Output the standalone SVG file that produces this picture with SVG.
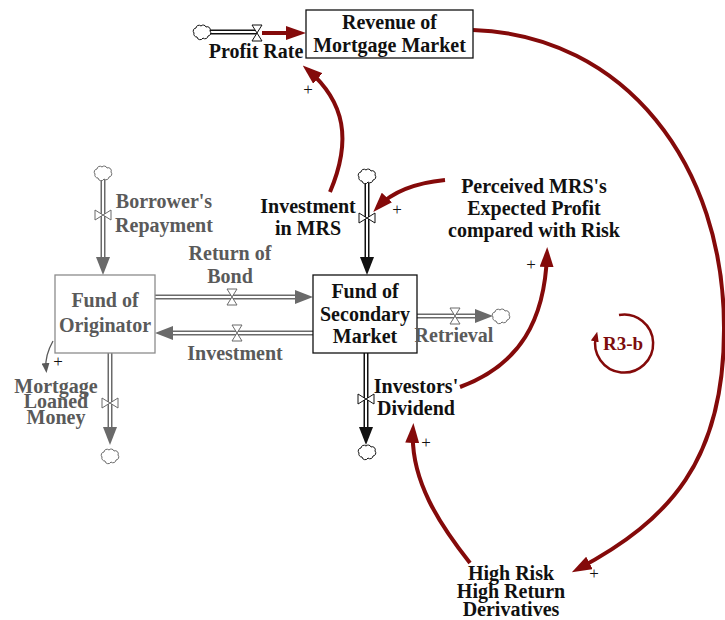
<svg xmlns="http://www.w3.org/2000/svg" width="725" height="620" viewBox="0 0 725 620">
  <style>
    text { font-family: "Liberation Serif", "Times New Roman", serif; font-weight: bold; font-size: 20px; text-anchor: middle; }
    .ink { fill: #111; }
    .dim { fill: #5a5a5a; }
    .loopname { fill: #7d0c0c; font-size: 19px; }
    .sign { font-weight: normal; font-size: 17px; fill: #111; }
    .stock { fill: #fff; stroke: #111; stroke-width: 1.3; }
    .stock-dim { fill: #fff; stroke: #8c8c8c; stroke-width: 1.3; }
    .pipe-black { fill: none; stroke: #111; stroke-width: 5; }
    .pipe-gray { fill: none; stroke: #6a6a6a; stroke-width: 5; }
    .pipe-core { fill: none; stroke: #fff; stroke-width: 2; }
    .link { fill: none; stroke: #840a0a; stroke-width: 4; marker-end: url(#redHead); }
    .loop { fill: none; stroke: #840a0a; stroke-width: 2.5; marker-end: url(#redSmall); }
    .valve-black { fill: #fff; stroke: #111; stroke-width: 1; }
    .valve-gray { fill: #fff; stroke: #6a6a6a; stroke-width: 1; }
    .cloud-black { fill: #fff; stroke: #111; stroke-width: 1; }
    .cloud-gray { fill: #fff; stroke: #6a6a6a; stroke-width: 1; }
  </style>
  <defs>
    <marker id="redHead" viewBox="0 0 20 14" refX="13" refY="7" markerWidth="20" markerHeight="14" markerUnits="userSpaceOnUse" orient="auto">
      <path d="M0,0 L20,7 L0,14 Z" fill="#840a0a"/>
    </marker>
    <marker id="redSmall" viewBox="0 0 10 8" refX="5" refY="4" markerWidth="10" markerHeight="8" markerUnits="userSpaceOnUse" orient="auto">
      <path d="M0,0 L10,4 L0,8 Z" fill="#840a0a"/>
    </marker>
    <marker id="grayTip" viewBox="0 0 10 8" refX="5" refY="4" markerWidth="10" markerHeight="8" markerUnits="userSpaceOnUse" orient="auto">
      <path d="M0,0 L10,4 L0,8 Z" fill="#5a5a5a"/>
    </marker>
    <marker id="pipeBlack" viewBox="0 0 18 14" refX="10" refY="7" markerWidth="18" markerHeight="14" markerUnits="userSpaceOnUse" orient="auto">
      <path d="M0,0 L18,7 L0,14 Z" fill="#111"/>
    </marker>
    <marker id="pipeGray" viewBox="0 0 18 14" refX="10" refY="7" markerWidth="18" markerHeight="14" markerUnits="userSpaceOnUse" orient="auto">
      <path d="M0,0 L18,7 L0,14 Z" fill="#6a6a6a"/>
    </marker>
    <!-- valve on a horizontal pipe (hourglass) and on a vertical pipe (bow tie) -->
    <path id="valveH" d="M-5,-8 L5,-8 L-5,8 L5,8 Z"/>
    <path id="valveV" d="M-8,-5 L-8,5 L8,-5 L8,5 Z"/>
    <!-- source / sink cloud -->
    <path id="cloud" d="M-5,5 A3,3 0 0 1 -8,1 A3,3 0 0 1 -6,-4 A3,3 0 0 1 -1,-6 A3,3 0 0 1 4,-5 A3,3 0 0 1 8,-1 A3,3 0 0 1 6,4 A3,3 0 0 1 1,6 A3.2,3.2 0 0 1 -5,5 Z"/>
  </defs>

  <g id="connectors">
    <!-- flow pipes -->
    <path class="pipe-black" d="M209,32 L257,32"/>
    <path class="pipe-core" d="M209,32 L257,32"/>

    <path class="pipe-black" d="M367,183 L367,267" marker-end="url(#pipeBlack)"/>
    <path class="pipe-core" d="M367,183 L367,257"/>

    <path class="pipe-gray" d="M103,179 L103,267" marker-end="url(#pipeGray)"/>
    <path class="pipe-core" d="M103,179 L103,257"/>

    <path class="pipe-gray" d="M155,297 L305,297" marker-end="url(#pipeGray)"/>
    <path class="pipe-core" d="M155,297 L295,297"/>

    <path class="pipe-gray" d="M313,333 L163,333" marker-end="url(#pipeGray)"/>
    <path class="pipe-core" d="M313,333 L173,333"/>

    <path class="pipe-gray" d="M417,316 L485,316" marker-end="url(#pipeGray)"/>
    <path class="pipe-core" d="M417,316 L475,316"/>

    <path class="pipe-black" d="M366,353 L366,437" marker-end="url(#pipeBlack)"/>
    <path class="pipe-core" d="M366,353 L366,427"/>

    <path class="pipe-gray" d="M110,353 L110,437" marker-end="url(#pipeGray)"/>
    <path class="pipe-core" d="M110,353 L110,427"/>

    <!-- causal links -->
    <path class="link" d="M262,33 L299,33"/>
    <path class="link" d="M473,30 C625,35 725,165 724,330 C724,460 670,520 578,569"/>
    <path class="link" d="M330,192 C352,140 345,102 308,70"/>
    <path class="link" d="M445,180 C415,183 392,192 378,207"/>
    <path class="link" d="M460,387 C520,365 545,320 547,254"/>
    <path class="link" d="M470,563 C440,525 410,480 413,430"/>
    <path d="M53,341 C48,350 45,358 46,368" fill="none" stroke="#5a5a5a" stroke-width="1.3" marker-end="url(#grayTip)"/>

    <!-- link polarities -->
    <text class="sign" x="308" y="95">+</text>
    <text class="sign" x="397" y="215">+</text>
    <text class="sign" x="531" y="270">+</text>
    <text class="sign" x="426" y="448">+</text>
    <text class="sign" x="594" y="579">+</text>
    <text class="sign" x="58" y="367">+</text>
  </g>

  <!-- stocks -->
  <g id="revenue-of-mortgage-market">
    <rect class="stock" x="306" y="10" width="167" height="48"/>
    <text class="ink" x="389.5" y="29">Revenue of</text>
    <text class="ink" x="389.5" y="52">Mortgage Market</text>
  </g>
  <g id="fund-of-secondary-market">
    <rect class="stock" x="313" y="275" width="104" height="78"/>
    <text class="ink" x="365" y="298">Fund of</text>
    <text class="ink" x="365" y="321">Secondary</text>
    <text class="ink" x="365" y="343">Market</text>
  </g>
  <g id="fund-of-originator">
    <rect class="stock-dim" x="55" y="275" width="100" height="78"/>
    <text class="dim" x="105" y="307">Fund of</text>
    <text class="dim" x="105" y="332">Originator</text>
  </g>

  <!-- flows -->
  <g id="profit-rate">
    <use href="#valveH" x="257" y="33" class="valve-black"/>
    <text class="ink" x="256" y="58">Profit Rate</text>
  </g>
  <g id="investment-in-mrs">
    <use href="#valveV" x="367" y="218" class="valve-black"/>
    <text class="ink" x="308" y="213">Investment</text>
    <text class="ink" x="308" y="235">in MRS</text>
  </g>
  <g id="borrowers-repayment">
    <use href="#valveV" x="103" y="215" class="valve-gray"/>
    <text class="dim" x="164" y="208">Borrower's</text>
    <text class="dim" x="164" y="232">Repayment</text>
  </g>
  <g id="return-of-bond">
    <use href="#valveH" x="232" y="297" class="valve-gray"/>
    <text class="dim" x="230" y="260">Return of</text>
    <text class="dim" x="230" y="283">Bond</text>
  </g>
  <g id="investment">
    <use href="#valveH" x="237" y="333" class="valve-gray"/>
    <text class="dim" x="235" y="360">Investment</text>
  </g>
  <g id="retrieval">
    <use href="#valveH" x="455" y="316" class="valve-gray"/>
    <text class="dim" x="454" y="342">Retrieval</text>
  </g>
  <g id="investors-dividend">
    <use href="#valveV" x="366" y="399" class="valve-black"/>
    <text class="ink" x="416" y="393">Investors'</text>
    <text class="ink" x="416" y="415">Dividend</text>
  </g>
  <g id="mortgage-loaned-money">
    <use href="#valveV" x="110" y="403" class="valve-gray"/>
    <text class="dim" x="56" y="393">Mortgage</text>
    <text class="dim" x="56" y="408">Loaned</text>
    <text class="dim" x="56" y="424">Money</text>
  </g>

  <!-- clouds -->
  <g id="cloud-profit-rate"><use href="#cloud" x="202" y="32" class="cloud-black"/></g>
  <g id="cloud-investment-in-mrs"><use href="#cloud" x="367" y="176" class="cloud-black"/></g>
  <g id="cloud-borrowers-repayment"><use href="#cloud" x="103" y="173" class="cloud-gray"/></g>
  <g id="cloud-retrieval"><use href="#cloud" x="501" y="316" class="cloud-gray"/></g>
  <g id="cloud-investors-dividend"><use href="#cloud" x="367" y="452" class="cloud-black"/></g>
  <g id="cloud-mortgage-loaned-money"><use href="#cloud" x="110" y="456" class="cloud-gray"/></g>

  <!-- auxiliaries -->
  <g id="perceived-expected-profit">
    <text class="ink" x="534" y="193">Perceived MRS's</text>
    <text class="ink" x="534" y="215">Expected Profit</text>
    <text class="ink" x="534" y="237">compared with Risk</text>
  </g>
  <g id="high-risk-derivatives">
    <text class="ink" x="511" y="580">High Risk</text>
    <text class="ink" x="511" y="598">High Return</text>
    <text class="ink" x="511" y="616">Derivatives</text>
  </g>

  <!-- loop identifier -->
  <g id="loop-r3-b">
    <path class="loop" d="M619,315 A29,29 0 1 1 596,336.5"/>
    <text class="loopname" x="623" y="350">R3-b</text>
  </g>
</svg>
